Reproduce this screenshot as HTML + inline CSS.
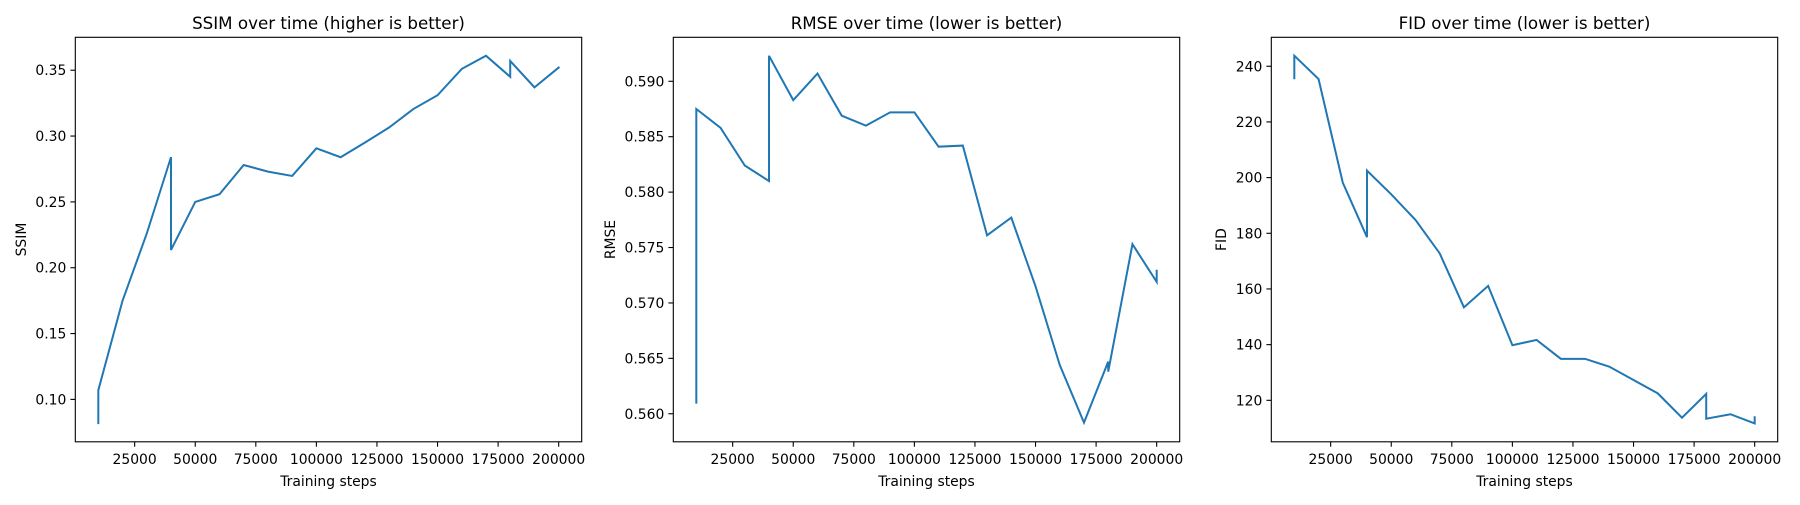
<!DOCTYPE html>
<html><head><meta charset="utf-8"><style>
html,body{margin:0;padding:0;background:#fff;}
svg text{font-family:"DejaVu Sans","Liberation Sans",sans-serif;fill:#000;}
</style></head><body>
<svg id="fig" width="1800" height="500" xmlns="http://www.w3.org/2000/svg"></svg>
<script>
const ssimSteps = [10000,10000,20000,30000,40000,40000,50000,60000,70000,80000,90000,100000,110000,120000,130000,140000,150000,160000,170000,180000,180000,190000,200000];
const ssimValues = [0.082,0.107,0.175,0.226,0.284,0.2135,0.250,0.2558,0.278,0.273,0.2697,0.2907,0.2839,0.295,0.3065,0.3205,0.331,0.351,0.361,0.345,0.357,0.337,0.352];
const rmseSteps = [10000,10000,20000,30000,40000,40000,50000,60000,70000,80000,90000,100000,110000,120000,130000,140000,150000,160000,170000,180000,180000,190000,200000,200000];
const rmseValues = [0.561,0.5875,0.5858,0.5824,0.5810,0.5923,0.5883,0.5907,0.5869,0.5860,0.5872,0.5872,0.5841,0.5842,0.5761,0.5777,0.5715,0.5644,0.5592,0.5647,0.5638,0.5753,0.5719,0.5729];
const fidSteps = [10000,10000,20000,30000,40000,40000,50000,60000,70000,80000,90000,100000,110000,120000,130000,140000,150000,160000,170000,180000,180000,190000,200000,200000];
const fidValues = [235.7,243.8,235.4,198.2,178.6,202.5,194.0,184.8,172.8,153.4,161.1,139.8,141.7,134.9,134.9,132.1,127.3,122.5,113.75,122.3,113.4,115.0,111.7,113.9];
const xTicks = [25000,50000,75000,100000,125000,150000,175000,200000];
const ssimTicks = [0.10,0.15,0.20,0.25,0.30,0.35];
const rmseTicks = [0.560,0.565,0.570,0.575,0.580,0.585,0.590];
const fidTicks = [120,140,160,180,200,220,240];

const NS = "http://www.w3.org/2000/svg";
const svg = document.getElementById('fig');
function mk(tag, attrs, parent){const e=document.createElementNS(NS,tag);for(const k in attrs)e.setAttribute(k,attrs[k]);(parent||svg).appendChild(e);return e;}

const TOP=37.3, BOT=441.8, W=506.4;
const XMIN=500, XMAX=209500;

function drawChart(cfg){
  const g = mk('g',{});
  
  
  const L=cfg.left;
  const xs=v=>L+(v-XMIN)/(XMAX-XMIN)*W;
  const ys=v=>BOT-(v-cfg.ymin)/(cfg.ymax-cfg.ymin)*(BOT-TOP);
  const pts=cfg.steps.map((s,i)=>xs(s).toFixed(2)+','+ys(cfg.vals[i]).toFixed(2)).join(' ');
  const pl=mk('polyline',{points:pts,fill:'none',stroke:'#1f77b4','stroke-width':2,'stroke-linejoin':'miter','stroke-linecap':'square'},g);
  
  
  const fr=mk('rect',{x:L,y:TOP,width:W,height:BOT-TOP,fill:'none',stroke:'#000','stroke-width':1.1},g);
  
  
  xTicks.forEach(t=>{
    const x=xs(t);
    mk('line',{x1:x,x2:x,y1:BOT,y2:BOT+4.9,stroke:'#000','stroke-width':1.1},g);
    const tx=mk('text',{x:x,y:BOT+22,'text-anchor':'middle','font-size':13.9},g);
    tx.textContent=t;
    
    
  });
  cfg.ticks.forEach(t=>{
    const y=ys(t);
    mk('line',{x1:L-4.9,x2:L,y1:y,y2:y,stroke:'#000','stroke-width':1.1},g);
    const tx=mk('text',{x:L-9,y:y+5,'text-anchor':'end','font-size':13.9},g);
    tx.textContent=t.toFixed(cfg.dec);
    
    
  });
  const xl=mk('text',{x:L+W/2,y:486,'text-anchor':'middle','font-size':13.9},g);
  xl.textContent='Training steps';
  
  
  const yl=mk('text',{x:0,y:0,'text-anchor':'middle','font-size':13.9,transform:`translate(${cfg.ylx},${(TOP+BOT)/2}) rotate(-90)`},g);
  yl.textContent=cfg.ylabel;
  
  
  const ti=mk('text',{x:L+W/2,y:29,'text-anchor':'middle','font-size':16.7},g);
  ti.textContent=cfg.title;
  
  
}
drawChart({name:'ssim',left:75.3,steps:ssimSteps,vals:ssimValues,ymin:0.0678,ymax:0.375,ticks:ssimTicks,dec:2,ylabel:'SSIM',ylx:26,title:'SSIM over time (higher is better)'});
drawChart({name:'rmse',left:673.3,steps:rmseSteps,vals:rmseValues,ymin:0.55747,ymax:0.59397,ticks:rmseTicks,dec:3,ylabel:'RMSE',ylx:615,title:'RMSE over time (lower is better)'});
drawChart({name:'fid',left:1271.3,steps:fidSteps,vals:fidValues,ymin:105.1,ymax:250.4,ticks:fidTicks,dec:0,ylabel:'FID',ylx:1226,title:'FID over time (lower is better)'});
</script>
</body></html>
